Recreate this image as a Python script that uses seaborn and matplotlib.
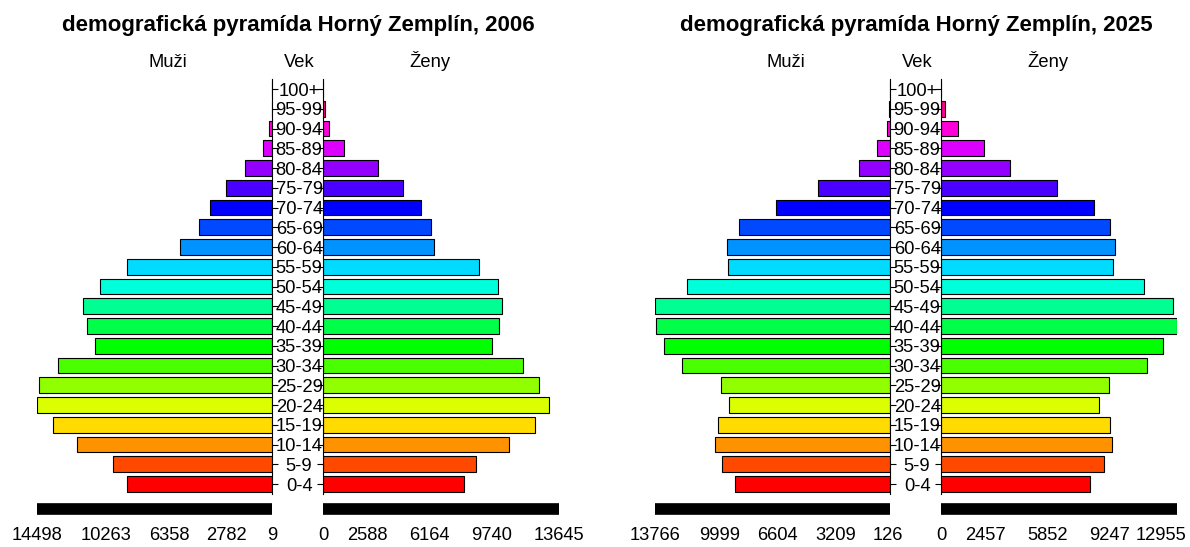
import colorsys
import matplotlib
matplotlib.use('Agg')
import matplotlib.pyplot as plt
from matplotlib.transforms import ScaledTranslation
import pandas as pd
import seaborn as sns

# vekove skupiny (zdola nahor)
age_groups = ['0-4', '5-9', '10-14', '15-19', '20-24', '25-29', '30-34', '35-39',
              '40-44', '45-49', '50-54', '55-59', '60-64', '65-69', '70-74',
              '75-79', '80-84', '85-89', '90-94', '95-99', '100+']

muzi_2006 = [8950, 9810, 12050, 13540, 14470, 14400, 13210, 10920, 11420, 11680, 10590,
             8940, 5660, 4530, 3810, 2840, 1690, 580, 210, 30, 9]
zeny_2006 = [8130, 8850, 10750, 12280, 13050, 12470, 11560, 9790, 10190, 10330, 10140,
             9000, 6420, 6220, 5690, 4630, 3200, 1210, 330, 116, 20]
muzi_2025 = [9080, 9850, 10280, 10100, 9430, 9900, 12170, 13230, 13720, 13760, 11890,
             9490, 9570, 8840, 6700, 4210, 1830, 750, 200, 30, 10]
zeny_2025 = [8190, 8960, 9380, 9290, 8700, 9220, 11300, 12200, 12950, 12730, 11150,
             9420, 9570, 9270, 8390, 6370, 3790, 2370, 920, 200, 25]

ticks_muzi_2006 = [14498, 10263, 6358, 2782, 9]
ticks_zeny_2006 = [0, 2588, 6164, 9740, 13645]
ticks_muzi_2025 = [13766, 9999, 6604, 3209, 126]
ticks_zeny_2025 = [0, 2457, 5852, 9247, 12955]

sns.set_style('white')
plt.rcParams['font.family'] = ['Liberation Sans', 'DejaVu Sans']
plt.rcParams['text.color'] = 'black'
plt.rcParams['xtick.color'] = 'black'
plt.rcParams['ytick.color'] = 'black'

W, H = 1190, 547
fig = plt.figure(figsize=(W / 100, H / 100), dpi=100)

# farby ako rainbow(21) v R
farby = {}
for i, g in enumerate(age_groups):
    r, gg, b = colorsys.hsv_to_rgb(i / 21, 1, 1)
    farby[g] = (r, gg, b)

order = age_groups[::-1]
ax_bottom = (H - 493.9) / H
ax_height = 414.75 / H
font_size = 13.2


def half(left_px, width_px, values, ticks, muzi, shift_last=0):
    ax = fig.add_axes([left_px / W, ax_bottom, width_px / W, ax_height])
    df = pd.DataFrame({'vek': age_groups, 'pocet': values})
    sns.barplot(data=df, x='pocet', y='vek', hue='vek', order=order, hue_order=order,
                palette=farby, saturation=1, legend=False, edgecolor='black',
                linewidth=0.8, width=0.8, ax=ax)
    if muzi:
        ax.set_xlim(max(ticks), 0)
    else:
        ax.set_xlim(0, max(ticks))
    ax.set_ylim(20.5, -0.5)
    ax.set_xlabel('')
    ax.set_ylabel('')
    ax.set_xticks(ticks)
    ax.set_xticklabels([str(t) for t in ticks])
    ax.tick_params(axis='x', length=0, pad=24, labelsize=font_size, labelcolor='black')
    for s in ['top', 'bottom', 'left', 'right']:
        ax.spines[s].set_visible(False)
    if muzi:
        ax.spines['right'].set_visible(True)
        ax.yaxis.tick_right()
        ax.tick_params(axis='y', right=True, left=False, direction='out', length=4,
                       width=0.8, pad=15.5, labelsize=font_size, labelcolor='black')
        for lab in ax.get_yticklabels():
            lab.set_horizontalalignment('center')
    else:
        ax.spines['left'].set_visible(True)
        ax.tick_params(axis='y', left=True, labelleft=False, direction='out',
                       length=4, width=0.8)
    for s in ['left', 'right']:
        ax.spines[s].set_linewidth(0.8)
        ax.spines[s].set_color('black')
    if shift_last:
        lab = ax.get_xticklabels()[-1]
        lab.set_transform(lab.get_transform() +
                          ScaledTranslation(shift_last / 100, 0, fig.dpi_scale_trans))
    # hruba cierna os pod stlpcami
    ax.plot([0, 1], [-0.0364, -0.0364], transform=ax.transAxes, clip_on=False,
            color='black', lw=8.4, solid_capstyle='butt')
    return ax


panels = [
    (37, 2006, muzi_2006, zeny_2006, ticks_muzi_2006, ticks_zeny_2006, 0),
    (655, 2025, muzi_2025, zeny_2025, ticks_muzi_2025, ticks_zeny_2025, -16),
]

for x0, rok, m, z, tm, tz, posun in panels:
    half(x0, 235, m, tm, True)
    half(x0 + 286, 236, z, tz, False, shift_last=posun)
    cx = x0 + 261.5
    fig.text(cx / W, 1 - 25 / H, f'demografická pyramída Horný Zemplín, {rok}',
             ha='center', va='center', fontsize=16, fontweight='bold')
    for dx, txt in [(131, 'Muži'), (262, 'Vek'), (393, 'Ženy')]:
        fig.text((x0 + dx) / W, 1 - 67 / H, txt, ha='center', va='baseline',
                 fontsize=font_size)

fig.savefig('out.png', dpi=100)
